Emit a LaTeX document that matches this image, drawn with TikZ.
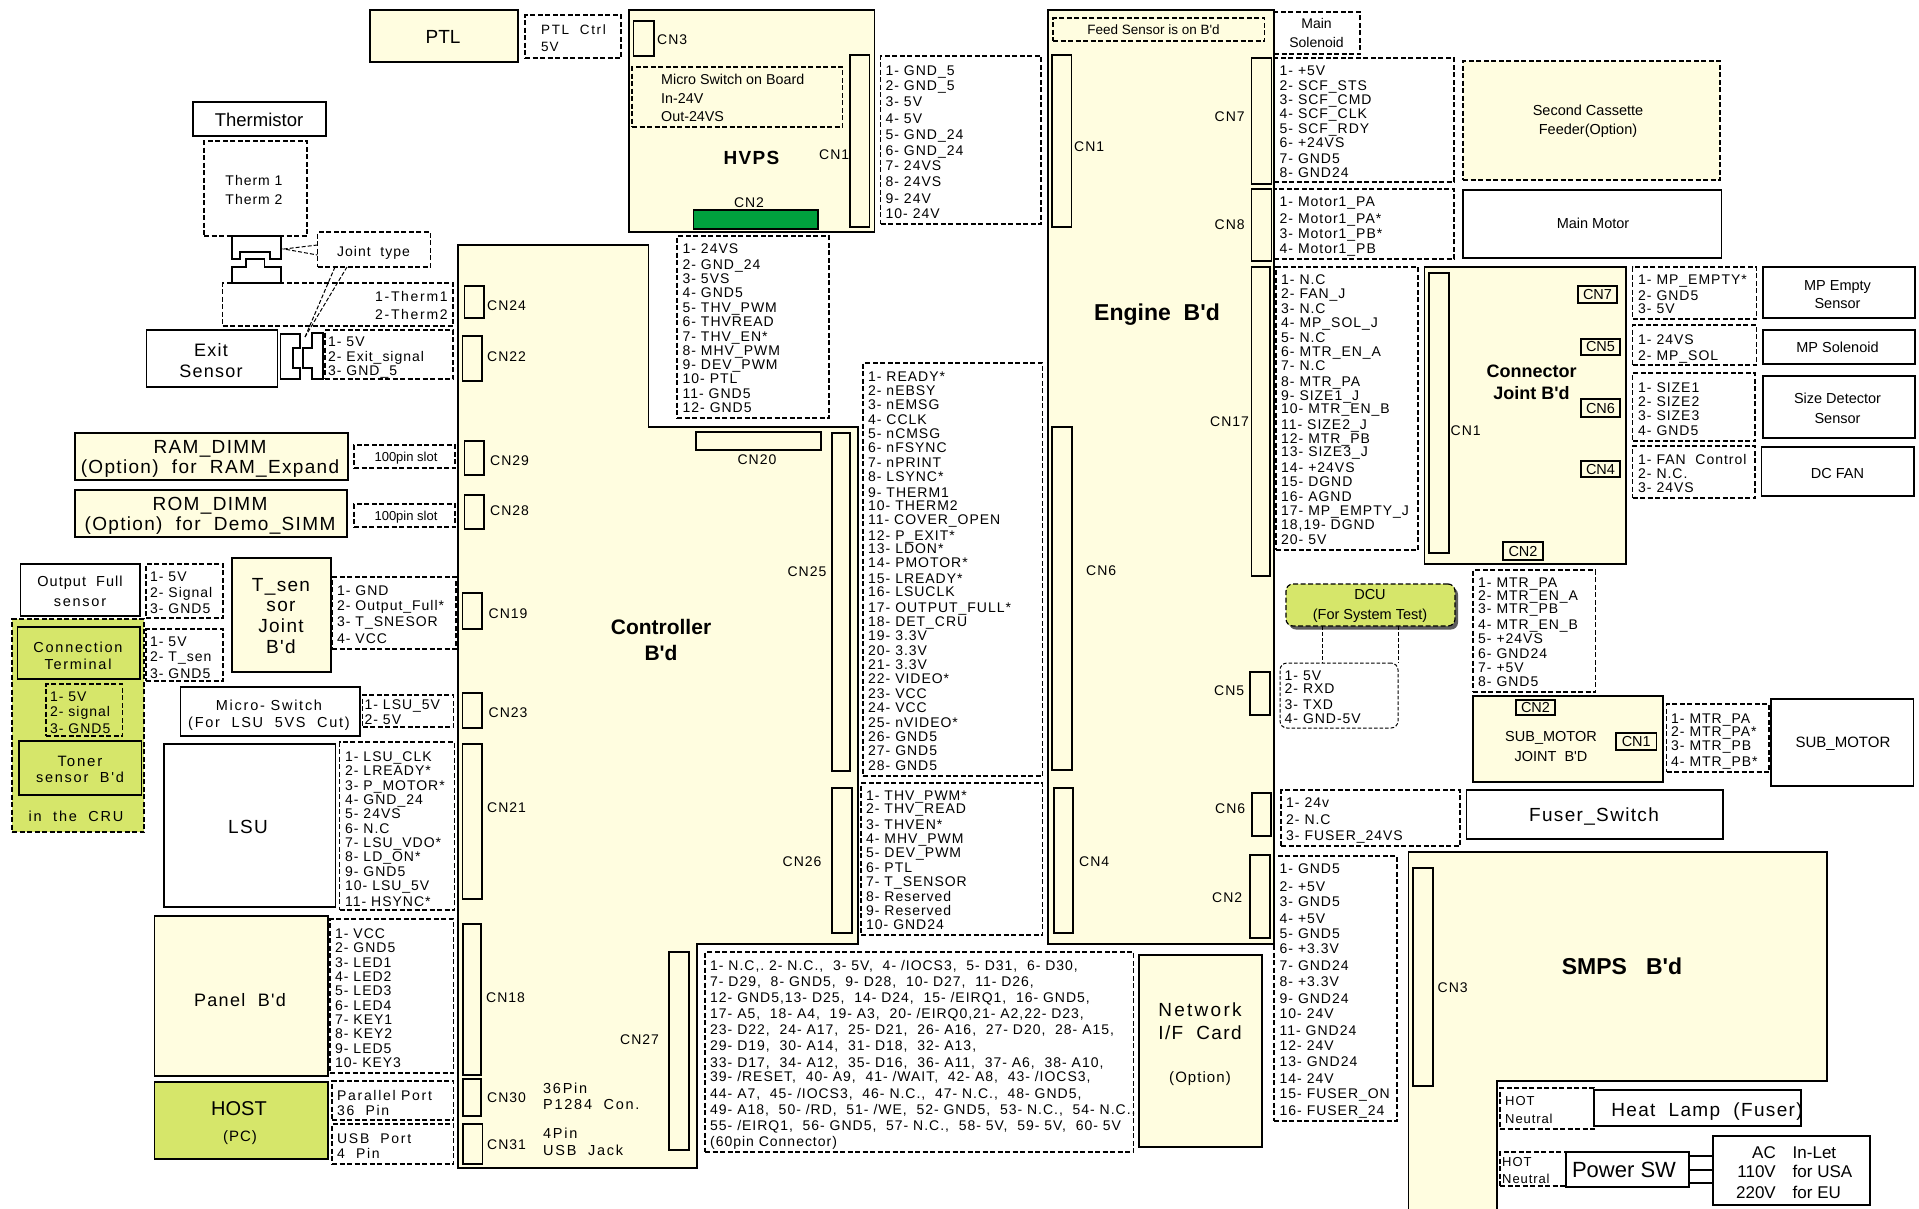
\documentclass[tikz,border=0pt]{standalone}
\usepackage{fontspec}
\setmainfont{Liberation Sans}
\newfontfamily\pinf[LetterSpace=7,WordSpace=0.55]{Liberation Sans}
\newfontfamily\spf[LetterSpace=7]{Liberation Sans}
\newfontfamily\wf[LetterSpace=12]{Liberation Sans}
\newfontfamily\plainf{Liberation Sans}
\usetikzlibrary{shadows}
\definecolor{cream}{HTML}{FFFDE0}
\definecolor{lime}{HTML}{D6E66A}
\definecolor{pcbgreen}{HTML}{00A03E}
\catcode`\_=12
\newcount\lblcount
\tikzset{
  every node/.style={text=black},
  F/.style n args={2}{font=#1\fontsize{#2}{#2}\selectfont,yshift={-0.358*#2*1pt}},
  pin/.style={anchor=base west,inner sep=0pt,F={\pinf}{14}},
  ctr/.style={anchor=base,inner sep=0pt},
  board/.style={draw,line width=1.5pt,fill=cream},
  conn/.style={draw,line width=1.4pt,fill=cream},
  whitebox/.style={draw,line width=1.4pt,fill=white},
  limebox/.style={draw,line width=1.6pt,fill=lime},
  dbox/.style={draw,line width=1.2pt,dash pattern=on 5pt off 2.5pt},
  dline/.style={draw,line width=1pt,dash pattern=on 4pt off 2pt},
  wire/.style={draw,line width=1.2pt},
}
\newcommand{\bx}[6]{%
  \pgfmathsetmacro\bxw{#4-#2}\pgfmathsetmacro\bxh{#5-#3}%
  \node[#6,anchor=north west,minimum width=\bxw pt,minimum height=\bxh pt,inner sep=0pt,outer sep=0pt] (#1) at (#2,#3) {};}
\newcommand{\tx}[4][pin]{\global\advance\lblcount by 1
  \node[#1] (lbl\the\lblcount) at (#2,#3) {#4};}
\newcommand{\pins}[2]{\foreach \yy/\ptxt in {#2}{\tx{#1}{\yy}{\ptxt}}}
\begin{document}
\begin{tikzpicture}[x=1pt,y=-1pt]
\useasboundingbox (0,0) rectangle (1919,1208);
\fill[white] (0,0) rectangle (1919,1208);
% main boards
\draw[board] (458,245) -- (648.5,245) -- (648.5,427) -- (858,427) -- (858,944) -- (697,944) -- (697,1168) -- (458,1168) -- cycle;
\draw[board] (1408.5,1209) -- (1408.5,852) -- (1827,852) -- (1827,1081) -- (1497,1081) -- (1497,1209);
\bx{hvps}{629}{10}{874.5}{232}{board}
\bx{engine}{1048}{10}{1274}{944}{board}
\bx{ptl}{370}{10}{518}{62}{board}
\bx{cjoint}{1424.5}{267}{1626}{564}{board}
\bx{subjoint}{1473}{696}{1663}{782}{board}
\bx{ramd}{75}{433}{348}{480}{board}
\bx{romd}{75}{490}{347}{537}{board}
\bx{tsen}{232}{558}{331}{672}{board}
\bx{panel}{154.5}{916}{328}{1076}{board}
\bx{netcard}{1139}{955}{1262}{1147}{board}
% lime region
\bx{cru}{12}{619}{144}{832}{dbox,fill=lime}
\bx{connterm}{17.5}{627}{140}{679}{limebox}
\bx{toner}{19}{741}{141.5}{795}{limebox}
\bx{host}{154.5}{1082}{328}{1159}{limebox}
% white boxes
\bx{thermistor}{193}{102}{326}{136}{whitebox}
\bx{exits}{146.5}{330}{277.5}{387}{whitebox}
\bx{outfull}{20.5}{564}{140}{616}{whitebox}
\bx{micro}{180.5}{687}{360}{736}{whitebox}
\bx{lsu}{164}{744}{335.5}{907}{whitebox}
\bx{mainmotor}{1463}{190}{1721.5}{258}{whitebox}
\bx{mpempty}{1763}{267}{1915}{318}{whitebox}
\bx{mpsol}{1763}{330}{1915}{364}{whitebox}
\bx{sizedet}{1763}{376}{1915}{438}{whitebox}
\bx{dcfan}{1761.5}{447}{1914}{496}{whitebox}
\bx{submotor}{1771}{699}{1913.5}{786}{whitebox}
\bx{fusersw}{1466.5}{790}{1723}{839}{whitebox}
\bx{heatlamp}{1594}{1090}{1801}{1126}{whitebox}
\bx{powersw}{1566}{1152}{1689}{1187}{whitebox}
\bx{acin}{1713}{1136}{1870}{1205}{whitebox}
% joint shapes
\draw[wire,fill=white] (232,236) -- (281,236) -- (281,259) -- (270,259) -- (270,252) -- (240,252) -- (240,259) -- (232,259) -- cycle;
\draw[wire,fill=white] (232,283) -- (281,283) -- (281,267) -- (264.5,267) -- (264.5,259) -- (246,259) -- (246,267) -- (232,267) -- cycle;
\draw[wire,fill=white] (280.5,334) -- (300,334) -- (300,348) -- (293,348) -- (293,368) -- (300,368) -- (300,379) -- (280.5,379) -- cycle;
\draw[wire,fill=white] (312,333) -- (323,333) -- (323,379) -- (312,379) -- (312,368) -- (303,368) -- (303,348) -- (312,348) -- cycle;
% dashed pin boxes
\bx{dptl}{525}{15}{621}{58}{dbox}
\bx{dtherm}{204}{141}{307}{236}{dbox}
\bx{djoint}{317.5}{232}{430.5}{267}{dbox}
\bx{dtherm2}{222.5}{283}{453}{326}{dbox}
\bx{dexit}{325}{330}{453}{379}{dbox}
\bx{dram}{354}{445}{455}{468}{dbox}
\bx{drom}{354}{504}{455}{527}{dbox}
\bx{dout}{146}{564}{223}{618}{dbox}
\bx{dtsn}{146}{629}{223}{681}{dbox}
\bx{dsen}{332}{577}{456}{649}{dbox}
\bx{dcru}{46}{684}{122.5}{736}{dbox}
\bx{dlsu5}{362.5}{695}{453.5}{727}{dbox}
\bx{dlsu}{339.5}{742}{454.5}{910}{dbox}
\bx{dpanel}{330}{919}{453.5}{1073}{dbox}
\bx{dpar}{332}{1081}{453.5}{1120}{dbox}
\bx{dusb}{332}{1124}{453.5}{1164}{dbox}
\bx{dmicro}{632}{67}{842.5}{127}{dbox}
\bx{dhv}{880.5}{56}{1041}{224}{dbox}
\bx{d24}{677}{236}{829}{418}{dbox}
\bx{dread}{863}{363}{1042.5}{776}{dbox}
\bx{dthv}{861}{783}{1042.5}{935}{dbox}
\bx{d60}{705}{952}{1133.5}{1152}{dbox}
\bx{dfeed}{1053}{18}{1264.5}{41}{dbox}
\bx{dsol}{1274}{12}{1360}{54}{dbox}
\bx{dscf}{1274}{58}{1454}{182}{dbox}
\bx{second}{1463}{61}{1720}{180}{dbox,fill=cream}
\bx{dmotor}{1274}{189}{1454}{259}{dbox}
\bx{dnc}{1276}{267}{1418}{550}{dbox}
\bx{dmpe}{1632.5}{267}{1756.5}{319}{dbox}
\bx{dmps}{1632.5}{325}{1756.5}{365}{dbox}
\bx{dsize}{1632.5}{373}{1755}{441}{dbox}
\bx{dfan}{1632.5}{446}{1755}{498}{dbox}
\bx{dmtr}{1473}{570}{1595.5}{692}{dbox}
\bx{dsubm}{1666.5}{704}{1769}{772}{dbox}
\bx{dfuser}{1281}{790}{1460}{846}{dbox}
\bx{dpwr}{1274}{856}{1397}{1121}{dbox}
\bx{dhot}{1500}{1088}{1594}{1129}{dbox}
\bx{dhot2}{1500}{1152}{1566}{1186}{dbox}
\bx{dcu}{1286}{584}{1455}{626}{dbox,fill=lime,rounded corners=7pt,drop shadow={shadow xshift=3pt,shadow yshift=-3.5pt,fill=black!70,opacity=0.9}}
\bx{ddcu}{1280}{663}{1398}{728}{dbox,line width=1pt,dash pattern=on 3.5pt off 2pt,rounded corners=7pt}
% connectors
\coordinate (jtip) at (284,249);
\coordinate (etip) at (305,337);
\draw[dline] (djoint.west |- 0,245) -- (jtip) -- (djoint.west |- 0,255);
\draw[dline] (djoint.south -| 335,0) -- (etip);
\draw[dline] (djoint.south -| 347,0) -- (etip);
\draw[dline] (dcu.south -| 1322,0) -- (ddcu.north -| 1322,0);
\draw[dline] (dcu.south -| 1398.5,0) -- (ddcu.north -| 1398.5,0);
\foreach \yy in {1156,1170,1183}{\draw[wire] (powersw.east |- 0,\yy) -- (acin.west |- 0,\yy);}
% connector sockets
\bx{cn24}{464.5}{286}{484}{318}{conn}
\bx{cn22}{462.5}{336}{482}{381}{conn}
\bx{cn29}{464.5}{441}{484}{475}{conn}
\bx{cn28}{464.5}{495}{484}{529}{conn}
\bx{cn19}{462.5}{593}{482}{629}{conn}
\bx{cn23}{462.5}{693}{482}{728}{conn}
\bx{cn21}{462.5}{744}{482}{899}{conn}
\bx{cn18}{463}{924}{481}{1075}{conn}
\bx{cn30}{463}{1079}{481}{1116}{conn}
\bx{cn31}{463}{1124}{482.5}{1164}{conn}
\bx{cn27}{669}{952}{689}{1150}{conn}
\bx{cn20}{696}{432}{821}{450}{conn}
\bx{cn25}{832}{433}{850}{771}{conn}
\bx{cn26}{832}{788}{852}{933}{conn}
\bx{hcn3}{633.5}{21}{654}{56}{conn}
\bx{hcn1}{850}{55}{869.5}{227}{conn}
\bx{hcn2}{693.5}{210}{818}{229}{conn,fill=pcbgreen}
\bx{ecn1}{1052}{55}{1071.5}{227}{conn}
\bx{ecn6b}{1052}{427}{1072}{770}{conn}
\bx{ecn4}{1054}{788}{1073}{933}{conn}
\bx{ecn7}{1251.5}{58}{1271.5}{184}{conn}
\bx{ecn8}{1251.5}{189}{1271.5}{261}{conn}
\bx{ecn17}{1251.5}{267}{1270}{576}{conn}
\bx{ecn5}{1250}{672}{1270}{715}{conn}
\bx{ecn6}{1252}{793}{1271}{836}{conn}
\bx{ecn2}{1250}{855}{1270}{938}{conn}
\bx{jcn1}{1429}{273}{1449}{553}{conn}
\bx{jcn7}{1578}{286}{1617}{303}{conn}
\bx{jcn5}{1581}{339}{1620}{355}{conn}
\bx{jcn6}{1581}{399}{1620}{417}{conn}
\bx{jcn4}{1581}{461}{1620}{477}{conn}
\bx{jcn2}{1503}{542}{1543}{560}{conn}
\bx{scn2}{1516}{700}{1555}{715}{conn}
\bx{scn1}{1616}{733}{1656.5}{750}{conn}
\bx{pcn3}{1413}{868}{1433}{1086}{conn}
% large centred text
\tx[ctr,F={\plainf}{19}]{443}{37}{PTL}
\tx[ctr,F={\plainf}{18.5}]{259}{120}{Thermistor}
\tx[ctr,F={\spf}{14}]{254}{180}{Therm 1}
\tx[ctr,F={\spf}{14}]{254}{199}{Therm 2}
\tx[ctr,F={\spf}{14}]{373.5}{251}{Joint\ \ type}
\tx[ctr,F={\spf}{18}]{211}{350}{Exit}
\tx[ctr,F={\spf}{18}]{211}{371}{Sensor}
\tx[ctr,F={\spf}{19}]{210}{447}{RAM_DIMM}
\tx[ctr,F={\spf}{19}]{210}{467}{(Option)\ \ for\ \ RAM_Expand}
\tx[ctr,F={\spf}{19}]{210}{504}{ROM_DIMM}
\tx[ctr,F={\spf}{19}]{210}{524}{(Option)\ \ for\ \ Demo_SIMM}
\tx[ctr,F={\plainf}{13}]{406}{457}{100pin slot}
\tx[ctr,F={\plainf}{13}]{406}{516}{100pin slot}
\tx[ctr,F={\spf}{14.5}]{80}{581}{Output\ \ Full}
\tx[ctr,F={\wf}{14.5}]{80}{601}{sensor}
\tx[ctr,F={\wf}{14.5}]{78}{647}{Connection}
\tx[ctr,F={\wf}{14.5}]{78}{664}{Terminal}
\tx[ctr,F={\wf}{15}]{80}{761}{Toner}
\tx[ctr,F={\wf}{14.5}]{80}{777}{sensor\ \ B'd}
\tx[ctr,F={\wf}{14.5}]{76}{816}{in\ \ the\ \ CRU}
\tx[ctr,F={\spf}{19}]{281}{585}{T_sen}
\tx[ctr,F={\spf}{19}]{281}{605}{sor}
\tx[ctr,F={\spf}{19}]{281}{626}{Joint}
\tx[ctr,F={\spf}{19}]{281}{647}{B'd}
\tx[ctr,F={\wf}{14.5}]{269}{705}{Micro- Switch}
\tx[ctr,F={\wf}{14.5}]{269}{722}{(For\ \ LSU\ \ 5VS\ \ Cut)}
\tx[ctr,F={\spf}{19}]{248}{827}{LSU}
\tx[ctr,F={\spf}{18}]{240}{1000}{Panel\ \ B'd}
\tx[ctr,F={\plainf}{20}]{239}{1108}{HOST}
\tx[ctr,F={\spf}{15}]{240}{1136}{(PC)}
\tx[ctr,F={\bfseries\plainf}{21}]{661}{627}{Controller}
\tx[ctr,F={\bfseries\plainf}{21}]{661}{653}{B'd}
\tx[ctr,F={\bfseries\spf}{19}]{751.5}{158}{HVPS}
\tx[ctr,F={\bfseries\plainf}{23}]{1157}{312}{Engine\ \ B'd}
\tx[ctr,F={\plainf}{13.5}]{1153.5}{30}{Feed Sensor is on B'd}
\tx[ctr,F={\plainf}{14}]{1316.5}{23}{Main}
\tx[ctr,F={\plainf}{14}]{1316.5}{42}{Solenoid}
\tx[ctr,F={\plainf}{14.5}]{1588}{110}{Second Cassette}
\tx[ctr,F={\plainf}{14.5}]{1588}{129}{Feeder(Option)}
\tx[ctr,F={\plainf}{14.5}]{1593}{223}{Main Motor}
\tx[ctr,F={\plainf}{14.5}]{1837.5}{285}{MP Empty}
\tx[ctr,F={\plainf}{14.5}]{1837.5}{303}{Sensor}
\tx[ctr,F={\plainf}{14.5}]{1837.5}{347}{MP Solenoid}
\tx[ctr,F={\plainf}{14.5}]{1837.5}{398}{Size Detector}
\tx[ctr,F={\plainf}{14.5}]{1837.5}{418}{Sensor}
\tx[ctr,F={\plainf}{14.5}]{1837.5}{473}{DC FAN}
\tx[ctr,F={\bfseries\plainf}{18}]{1531.5}{371}{Connector}
\tx[ctr,F={\bfseries\plainf}{18}]{1531.5}{393}{Joint B'd}
\tx[ctr,F={\plainf}{14.5}]{1370}{594}{DCU}
\tx[ctr,F={\plainf}{14.5}]{1370}{614}{(For System Test)}
\tx[ctr,F={\plainf}{14.5}]{1551}{736}{SUB_MOTOR}
\tx[ctr,F={\plainf}{14.5}]{1551}{756}{JOINT\ \ B'D}
\tx[ctr,F={\plainf}{15}]{1843}{742}{SUB_MOTOR}
\tx[ctr,F={\spf}{19}]{1594}{815}{Fuser_Switch}
\tx[ctr,F={\bfseries\plainf}{23}]{1622}{966}{SMPS\ \ \ B'd}
\tx[ctr,F={\spf}{19}]{1707}{1110}{Heat\ \ Lamp\ \ (Fuser)}
\tx[ctr,F={\plainf}{22}]{1624}{1170}{Power SW}
\tx[ctr,F={\wf}{19}]{1200}{1010}{Network}
\tx[ctr,F={\spf}{19}]{1200}{1033}{I/F\ \ Card}
\tx[ctr,F={\spf}{15}]{1200}{1077}{(Option)}
\tx[anchor=base east,inner sep=0pt,F={\plainf}{17}]{1776}{1152}{AC}
\tx[anchor=base east,inner sep=0pt,F={\plainf}{17}]{1776}{1171}{110V}
\tx[anchor=base east,inner sep=0pt,F={\plainf}{17}]{1776}{1192}{220V}
\tx[anchor=base west,inner sep=0pt,F={\plainf}{17}]{1792.5}{1152}{In-Let}
\tx[anchor=base west,inner sep=0pt,F={\plainf}{17}]{1792.5}{1171}{for USA}
\tx[anchor=base west,inner sep=0pt,F={\plainf}{17}]{1792.5}{1192}{for EU}
% connector labels
\pins{487}{305/CN24,356/CN22}
\pins{490}{460/CN29,510/CN28}
\pins{488.5}{613/CN19,712/CN23}
\pins{487}{807/CN21,1097/CN30,1144/CN31}
\tx{486}{997}{CN18}
\tx{620}{1039}{CN27}
\tx[ctr,F={\pinf}{14}]{757}{459}{CN20}
\tx[ctr,F={\pinf}{14}]{807}{571}{CN25}
\tx{782.5}{861}{CN26}
\tx{657}{39}{CN3}
\tx{819}{154}{CN1}
\tx[ctr,F={\pinf}{14}]{749}{202}{CN2}
\tx{1074}{146}{CN1}
\tx{1214.5}{116}{CN7}
\tx{1214.5}{224}{CN8}
\tx{1210}{421}{CN17}
\tx{1086}{570}{CN6}
\tx{1214}{690}{CN5}
\tx{1215}{808}{CN6}
\tx{1079}{861}{CN4}
\tx{1212}{897}{CN2}
\tx{1450.5}{430}{CN1}
\tx{1437.5}{987}{CN3}
\foreach \nm/\lab in {jcn7/CN7,jcn5/CN5,jcn6/CN6,jcn4/CN4,jcn2/CN2,scn2/CN2,scn1/CN1}{
  \global\advance\lblcount by 1
  \node[inner sep=0pt,font=\plainf\fontsize{14.5}{14.5}\selectfont] (lbl\the\lblcount) at (\nm.center) {\lab};}
% pin lists
\tx[anchor=base west,inner sep=0pt,F={\wf}{13.5}]{541}{30}{PTL\ \ Ctrl}
\tx[anchor=base west,inner sep=0pt,F={\spf}{13.5}]{541}{47}{5V}
\tx[anchor=base west,inner sep=0pt,F={\wf}{14}]{375}{296}{1-Therm1}
\tx[anchor=base west,inner sep=0pt,F={\wf}{14}]{375}{314}{2-Therm2}
\pins{328}{341/1- 5V,356/2- Exit_signal,370/3- GND_5}
\pins{150}{576/1- 5V,592/2- Signal,608/3- GND5}
\pins{150}{641/1- 5V,656/2- T_sen,673/3- GND5}
\pins{50}{696/1- 5V,711/2- signal,728/3- GND5}
\pins{337}{590/1- GND,605.5/2- Output_Full*,621/3- T_SNESOR,638/4- VCC}
\pins{364.5}{704/1- LSU_5V,719/2- 5V}
\pins{345}{756/1- LSU_CLK,770/2- LREADY*,785/3- P_MOTOR*,799/4- GND_24,813/5- 24VS,828/6- N.C,842/7- LSU_VDO*,856/8- LD_ON*,871/9- GND5,885/10- LSU_5V,901/11- HSYNC*}
\pins{335}{933/1- VCC,947/2- GND5,962/3- LED1,976/4- LED2,990/5- LED3,1005/6- LED4,1019/7- KEY1,1033/8- KEY2,1048/9- LED5,1062/10- KEY3}
\tx[anchor=base west,inner sep=0pt,F={\wf}{14}]{337}{1095}{Parallel Port}
\tx[anchor=base west,inner sep=0pt,F={\wf}{14}]{337}{1110}{36\ \ Pin}
\tx[anchor=base west,inner sep=0pt,F={\wf}{14}]{337}{1138}{USB\ \ Port}
\tx[anchor=base west,inner sep=0pt,F={\wf}{14}]{337}{1153}{4\ \ Pin}
\tx[anchor=base west,inner sep=0pt,F={\wf}{14.5}]{543}{1088}{36Pin}
\tx[anchor=base west,inner sep=0pt,F={\wf}{14.5}]{543}{1104}{P1284\ \ Con.}
\tx[anchor=base west,inner sep=0pt,F={\wf}{14.5}]{543}{1133}{4Pin}
\tx[anchor=base west,inner sep=0pt,F={\wf}{14.5}]{543}{1150}{USB\ \ Jack}
\tx[anchor=base west,inner sep=0pt,F={\plainf}{14.3}]{661}{79}{Micro Switch on Board}
\tx[anchor=base west,inner sep=0pt,F={\plainf}{14.3}]{661}{98}{In-24V}
\tx[anchor=base west,inner sep=0pt,F={\plainf}{14.3}]{661}{116}{Out-24VS}
\pins{885.5}{70/1- GND_5,85.5/2- GND_5,101/3- 5V,118/4- 5V,134/5- GND_24,150.5/6- GND_24,165.5/7- 24VS,181.5/8- 24VS,198/9- 24V,213/10- 24V}
\pins{682.5}{248/1- 24VS,264/2- GND_24,278/3- 5VS,292/4- GND5,307/5- THV_PWM,321/6- THVREAD,336/7- THV_EN*,350/8- MHV_PWM,364/9- DEV_PWM,378/10- PTL,393/11- GND5,407/12- GND5}
\pins{868}{376/1- READY*,390/2- nEBSY,404/3- nEMSG,419/4- CCLK,433/5- nCMSG,447/6- nFSYNC,462/7- nPRINT,476/8- LSYNC*,492/9- THERM1,505/10- THERM2,519/11- COVER_OPEN,535/12- P_EXIT*,548/13- LDON*,562/14- PMOTOR*,578/15- LREADY*,591/16- LSUCLK,607/17- OUTPUT_FULL*,621/18- DET_CRU,635/19- 3.3V,650/20- 3.3V,664/21- 3.3V,678/22- VIDEO*,693/23- VCC,707/24- VCC,722/25- nVIDEO*,736/26- GND5,750/27- GND5,765/28- GND5}
\pins{866}{795/1- THV_PWM*,808/2- THV_READ,824/3- THVEN*,838/4- MHV_PWM,852/5- DEV_PWM,867/6- PTL,881/7- T_SENSOR,896/8- Reserved,910/9- Reserved,924/10- GND24}
\newcommand{\gp}{,\ \ }
\tx{710}{965}{1- N.C,.\ 2- N.C.\gp 3- 5V\gp 4- /IOCS3\gp 5- D31\gp 6- D30,}
\tx{710}{981}{7- D29\gp 8- GND5\gp 9- D28\gp 10- D27\gp 11- D26,}
\tx{710}{997}{12- GND5,13- D25\gp 14- D24\gp 15- /EIRQ1\gp 16- GND5,}
\tx{710}{1013}{17- A5\gp 18- A4\gp 19- A3\gp 20- /EIRQ0,21- A2,22- D23,}
\tx{710}{1029}{23- D22\gp 24- A17\gp 25- D21\gp 26- A16\gp 27- D20\gp 28- A15,}
\tx{710}{1045}{29- D19\gp 30- A14\gp 31- D18\gp 32- A13,}
\tx{710}{1062}{33- D17\gp 34- A12\gp 35- D16\gp 36- A11\gp 37- A6\gp 38- A10,}
\tx{710}{1076}{39- /RESET\gp 40- A9\gp 41- /WAIT\gp 42- A8\gp 43- /IOCS3,}
\tx{710}{1093}{44- A7\gp 45- /IOCS3\gp 46- N.C.\gp 47- N.C.\gp 48- GND5,}
\tx{710}{1109}{49- A18\gp 50- /RD\gp 51- /WE\gp 52- GND5\gp 53- N.C.\gp 54- N.C.,}
\tx{710}{1125}{55- /EIRQ1\gp 56- GND5\gp 57- N.C.\gp 58- 5V\gp 59- 5V\gp 60- 5V}
\tx{710}{1141}{(60pin Connector)}
\pins{1279.5}{70/1- +5V,85.5/2- SCF_STS,99.5/3- SCF_CMD,113.5/4- SCF_CLK,128/5- SCF_RDY,142/6- +24VS,158/7- GND5,172/8- GND24}
\pins{1279.5}{201/1- Motor1_PA,218/2- Motor1_PA*,233/3- Motor1_PB*,248/4- Motor1_PB}
\pins{1281}{279/1- N.C,293/2- FAN_J,308/3- N.C,322/4- MP_SOL_J,337/5- N.C,351/6- MTR_EN_A,365/7- N.C,381/8- MTR_PA,395/9- SIZE1_J,408/10- MTR_EN_B,424/11- SIZE2_J,438/12- MTR_PB,451/13- SIZE3_J,467/14- +24VS,481/15- DGND,496/16- AGND,510/17- MP_EMPTY_J,{524/18,19- DGND},539/20- 5V}
\pins{1638}{279/1- MP_EMPTY*,295/2- GND5,308/3- 5V}
\pins{1638}{339/1- 24VS,355/2- MP_SOL}
\pins{1638}{387/1- SIZE1,401/2- SIZE2,415/3- SIZE3,430/4- GND5}
\tx{1638}{459}{1- FAN\ \ Control}
\tx{1638}{473}{2- N.C.}
\tx{1638}{487}{3- 24VS}
\pins{1284.5}{675/1- 5V,688/2- RXD,704/3- TXD,718/4- GND-5V}
\pins{1478}{582/1- MTR_PA,595/2- MTR_EN_A,608/3- MTR_PB,624/4- MTR_EN_B,638/5- +24VS,653/6- GND24,667/7- +5V,681/8- GND5}
\pins{1671}{718/1- MTR_PA,731/2- MTR_PA*,745/3- MTR_PB,761/4- MTR_PB*}
\pins{1286}{802/1- 24v,819/2- N.C,835/3- FUSER_24VS}
\pins{1279.5}{868/1- GND5,886/2- +5V,901/3- GND5,918/4- +5V,933/5- GND5,948/6- +3.3V,965/7- GND24,981/8- +3.3V,998/9- GND24,1013/10- 24V,1030/11- GND24,1045/12- 24V,1061/13- GND24,1078/14- 24V,1093/15- FUSER_ON,1110/16- FUSER_24}
\tx[anchor=base west,inner sep=0pt,F={\pinf}{13}]{1505}{1101}{HOT}
\tx[anchor=base west,inner sep=0pt,F={\pinf}{13}]{1505}{1118.5}{Neutral}
\tx[anchor=base west,inner sep=0pt,F={\pinf}{13}]{1502}{1162}{HOT}
\tx[anchor=base west,inner sep=0pt,F={\pinf}{13}]{1502}{1179}{Neutral}
\end{tikzpicture}
\end{document}
